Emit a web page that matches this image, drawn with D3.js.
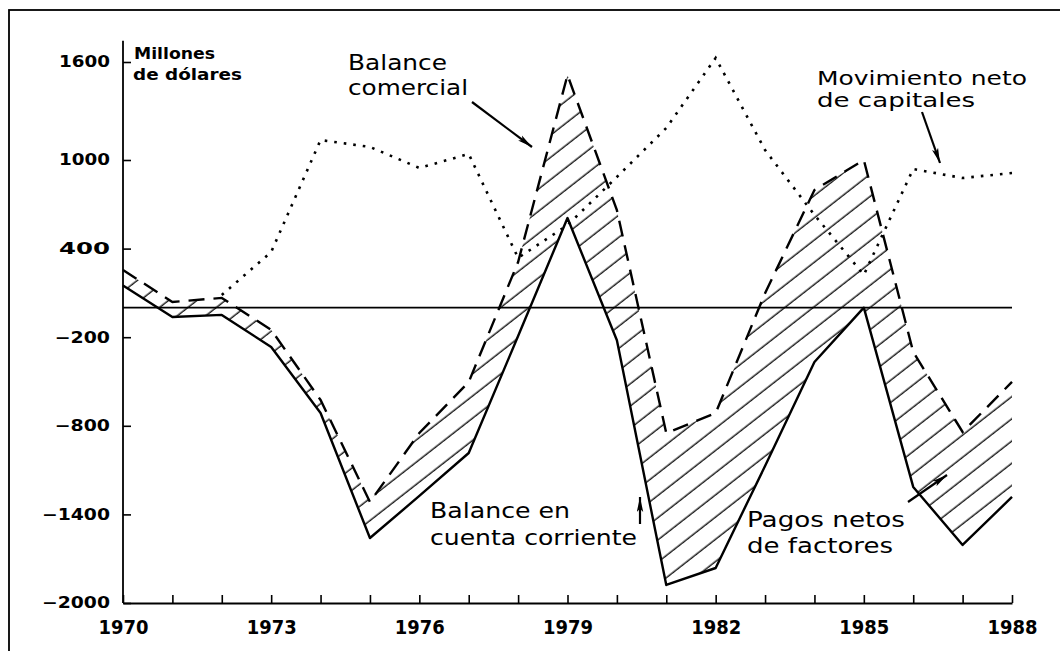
<!DOCTYPE html>
<html lang="es">
<head>
<meta charset="UTF-8">
<title>Balance comercial y cuenta corriente</title>
<script src="https://d3js.org/d3.v7.min.js"></script>
<style>
  body { margin: 0; background: #fff; }
  svg { display: block; }
  text { font-family: "DejaVu Sans", sans-serif; fill: #000; }
</style>
</head>
<body>
<div id="chart"></div>
<script>
// años del eje x
var years = [1970, 1971, 1972, 1973, 1974, 1975, 1976, 1977, 1978, 1979,
             1980, 1981, 1982, 1983, 1984, 1985, 1986, 1987, 1988];

// millones de dólares
var balanceComercial = [255, 39, 66, -150, -625, -1316, -849, -504, 309, 1520,
                        660, -850, -714, 98, 797, 1000, -300, -842, -503];
var cuentaCorriente  = [150, -63, -49, -266, -713, -1560, -1275, -984, -192, 607,
                        -221, -1878, -1763, -1072, -368, 0, -1214, -1607, -1282];
var capitales        = [null, null, 86, 377, 1122, 1080, 946, 1037, 337, 559,
                        885, 1196, 1625, 1061, 628, 222, 939, 878, 912];

var yTicks = [-2000, -1400, -800, -200, 400, 1000, 1600];
var xLabels = [1970, 1973, 1976, 1979, 1982, 1985, 1988];

var W = 1060, H = 651;

var svg = d3.select("#chart").append("svg")
    .attr("width", W).attr("height", H);

var defs = svg.append("defs");

// rayado diagonal para los pagos netos de factores
var pat = defs.append("pattern")
    .attr("id", "hatch")
    .attr("patternUnits", "userSpaceOnUse")
    .attr("width", 20).attr("height", 17.5)
    .attr("patternTransform", "rotate(-38)");
pat.append("line")
    .attr("x1", -2).attr("y1", 8).attr("x2", 22).attr("y2", 8)
    .attr("stroke", "#000").attr("stroke-width", 1.3);

defs.append("marker")
    .attr("id", "head")
    .attr("viewBox", "0 0 14 6")
    .attr("refX", 14).attr("refY", 3)
    .attr("markerUnits", "userSpaceOnUse")
    .attr("markerWidth", 15).attr("markerHeight", 7)
    .attr("orient", "auto")
    .append("path")
    .attr("d", "M0,0 L14,3 L0,6 L3,3 Z")
    .attr("fill", "#000");

// marco (solo se ven arriba y a la izquierda)
svg.append("rect")
    .attr("x", 9).attr("y", 10)
    .attr("width", 1080).attr("height", 680)
    .attr("fill", "none").attr("stroke", "#000").attr("stroke-width", 1.8);

var x = d3.scaleLinear().domain([1970, 1988]).range([123, 1012]);
// la escala del original se estira un poco por encima de 1000
var y = d3.scaleLinear().domain([-2000, 1000, 1600]).range([603, 160, 62]);

// area entre balance comercial y cuenta corriente
var area = d3.area()
    .x(function(d, i) { return x(years[i]); })
    .y0(function(d, i) { return y(cuentaCorriente[i]); })
    .y1(function(d, i) { return y(balanceComercial[i]); });

svg.append("path")
    .datum(years)
    .attr("d", area)
    .attr("fill", "url(#hatch)");

// linea de cero
svg.append("line")
    .attr("x1", x(1970)).attr("x2", x(1988))
    .attr("y1", y(0)).attr("y2", y(0))
    .attr("stroke", "#000").attr("stroke-width", 1.6);

// ejes
var xAxis = d3.axisBottom(x)
    .tickValues(years)
    .tickSize(-8)
    .tickSizeOuter(0)
    .tickFormat(function(d) { return xLabels.indexOf(d) >= 0 ? d : ""; });

var gx = svg.append("g")
    .attr("transform", "translate(0," + y(-2000) + ")")
    .call(xAxis);
gx.select(".domain").attr("stroke-width", 2);
gx.selectAll(".tick line").attr("stroke-width", 1.6);
gx.selectAll(".tick text")
    .attr("y", 18)
    .style("font-size", "19px")
    .style("font-weight", "bold")
    .style("font-family", "DejaVu Sans")
    .attr("textLength", function(d) { return xLabels.indexOf(d) >= 0 ? 50 : null; })
    .attr("lengthAdjust", "spacingAndGlyphs");

var yAxis = d3.axisLeft(y)
    .tickValues(yTicks)
    .tickSize(-8)
    .tickSizeOuter(0)
    .tickFormat(d3.format("d"));

var gy = svg.append("g")
    .attr("transform", "translate(" + x(1970) + ",0)")
    .call(yAxis);
gy.select(".domain").remove();
gy.selectAll(".tick line").attr("stroke-width", 1.6);
gy.selectAll(".tick text")
    .attr("x", -13)
    .style("font-size", "15px")
    .style("font-weight", "bold")
    .style("font-family", "DejaVu Sans")
    .attr("textLength", function(d) { return d < 0 ? 17 + 12.75 * String(-d).length : 51; })
    .attr("lengthAdjust", "spacingAndGlyphs");

svg.append("line")
    .attr("x1", x(1970)).attr("x2", x(1970))
    .attr("y1", y(-2000)).attr("y2", y(1730))
    .attr("stroke", "#000").attr("stroke-width", 1.8);

// series
var line = function(values) {
    return d3.line()
        .defined(function(d) { return d !== null; })
        .x(function(d, i) { return x(years[i]); })
        .y(function(d) { return y(d); })(values);
};

svg.append("path")
    .attr("d", line(cuentaCorriente))
    .attr("fill", "none").attr("stroke", "#000")
    .attr("stroke-width", 2.4).attr("stroke-linejoin", "round");

svg.append("path")
    .attr("d", line(balanceComercial))
    .attr("fill", "none").attr("stroke", "#000")
    .attr("stroke-width", 2.4).attr("stroke-dasharray", "16,9");

svg.append("path")
    .attr("d", line(capitales))
    .attr("fill", "none").attr("stroke", "#000")
    .attr("stroke-width", 2.6).attr("stroke-dasharray", "2.6,7");

// textos
var notes = [
    { t: "Millones",         x: 134, y: 59,  w: 81,  fs: 16, b: true },
    { t: "de dólares",       x: 133, y: 80,  w: 109, fs: 16, b: true },
    { t: "Balance",          x: 348, y: 70,  w: 99,  fs: 22 },
    { t: "comercial",        x: 348, y: 95,  w: 120, fs: 22 },
    { t: "Movimiento neto",  x: 817, y: 85,  w: 210, fs: 20 },
    { t: "de capitales",     x: 817, y: 107, w: 158, fs: 20 },
    { t: "Balance en",       x: 430, y: 518, w: 140, fs: 21 },
    { t: "cuenta corriente", x: 430, y: 545, w: 207, fs: 21 },
    { t: "Pagos netos",      x: 747, y: 527, w: 158, fs: 22 },
    { t: "de factores",      x: 747, y: 553, w: 146, fs: 22 }
];

svg.selectAll(".note")
    .data(notes)
    .enter().append("text")
    .attr("class", "note")
    .attr("x", function(d) { return d.x; })
    .attr("y", function(d) { return d.y; })
    .attr("textLength", function(d) { return d.w; })
    .attr("lengthAdjust", "spacingAndGlyphs")
    .style("font-size", function(d) { return d.fs + "px"; })
    .style("font-weight", function(d) { return d.b ? "bold" : "normal"; })
    .text(function(d) { return d.t; });

// flechas
var arrows = [
    [472, 102, 532, 147],
    [922, 112, 940, 163],
    [640, 524, 640, 497],
    [908, 502, 947, 475]
];

svg.selectAll(".arrow")
    .data(arrows)
    .enter().append("line")
    .attr("class", "arrow")
    .attr("x1", function(d) { return d[0]; })
    .attr("y1", function(d) { return d[1]; })
    .attr("x2", function(d) { return d[2]; })
    .attr("y2", function(d) { return d[3]; })
    .attr("stroke", "#000").attr("stroke-width", 2.2)
    .attr("marker-end", "url(#head)");
</script>
</body>
</html>
